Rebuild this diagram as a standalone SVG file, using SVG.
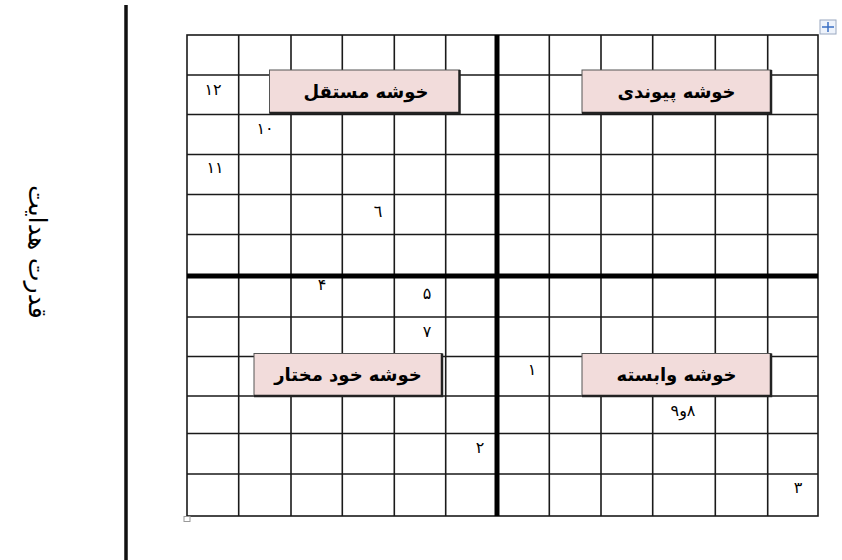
<svg xmlns="http://www.w3.org/2000/svg" width="842" height="560" viewBox="0 0 842 560">
<style>
.g{stroke:#1a1a1a;stroke-width:1.6;fill:none}
.thick{stroke:#000;stroke-width:5}
.box{fill:#f2dcdb;stroke:#555;stroke-width:1}
.sh{stroke:#222;stroke-width:2.5;fill:none}
.lbl{font-family:"DejaVu Sans",sans-serif;font-weight:bold;font-size:18px;fill:#000;text-anchor:middle}
.num{font-family:"DejaVu Sans",sans-serif;font-size:16px;fill:#000;text-anchor:middle}
</style>
<rect width="842" height="560" fill="#fff"/>
<line x1="126" y1="5" x2="126" y2="560" stroke="#111" stroke-width="3.5"/>
<text class="lbl" transform="translate(29,252) rotate(90)" style="font-size:25px;font-weight:normal">قدرت هدایت</text>
<g id="grid">
<rect x="187" y="35" width="631" height="481" class="g"/>
<path class="g" d="M238.7 35V516M291 35V516M342.3 35V516M394.3 35V516M445.7 35V516M549.3 35V516M601 35V516M652.7 35V516M715.3 35V516M767.7 35V516"/>
<path class="g" d="M187 75H818M187 114.5H818M187 154.5H818M187 194.5H818M187 234.5H818M187 317H818M187 356.5H818M187 396H818M187 433.5H818M187 474H818"/>
<line class="thick" x1="497" y1="35" x2="497" y2="516"/>
<line class="thick" x1="187" y1="276" x2="818" y2="276"/>
</g>
<g id="connectors"></g>
<g id="n-mostaghel">
<rect class="box" x="269.5" y="70" width="190" height="43"/>
<path class="sh" d="M459.5 70V113H269.5"/>
<text class="lbl" x="366" y="98">خوشه مستقل</text>
</g>
<g id="n-peyvandi">
<rect class="box" x="582" y="70" width="189" height="43"/>
<path class="sh" d="M771 70V113H582"/>
<text class="lbl" x="676.5" y="98">خوشه پیوندی</text>
</g>
<g id="n-khodmokhtar">
<rect class="box" x="254" y="353.5" width="188" height="42.5"/>
<path class="sh" d="M442 353.5V396H254"/>
<text class="lbl" x="348" y="381">خوشه خود مختار</text>
</g>
<g id="n-vabaste">
<rect class="box" x="582" y="353.5" width="189" height="42.5"/>
<path class="sh" d="M771 353.5V396H582"/>
<text class="lbl" x="676.5" y="381">خوشه وابسته</text>
</g>
<g id="numbers">
<text class="num" x="213" y="95">١٢</text>
<text class="num" x="265" y="134">١٠</text>
<text class="num" x="215" y="173">١١</text>
<text class="num" x="378" y="217">٦</text>
<text class="num" x="322" y="290">۴</text>
<text class="num" x="427" y="299">۵</text>
<text class="num" x="427" y="337">٧</text>
<text class="num" x="532" y="375">١</text>
<text class="num" x="683" y="416" direction="rtl" unicode-bidi="embed">٨و٩</text>
<text class="num" x="480" y="453">٢</text>
<text class="num" x="798" y="493">٣</text>
</g>
<g id="handles">
<rect x="820" y="20" width="16" height="14" fill="#eef3fb" stroke="#9aa8c0" stroke-width="1"/>
<path d="M828 22V32M822 27H834" stroke="#3a6fc4" stroke-width="1.5"/>
<rect x="184" y="516.5" width="6" height="5" fill="#fff" stroke="#999" stroke-width="1"/>
</g>
</svg>
